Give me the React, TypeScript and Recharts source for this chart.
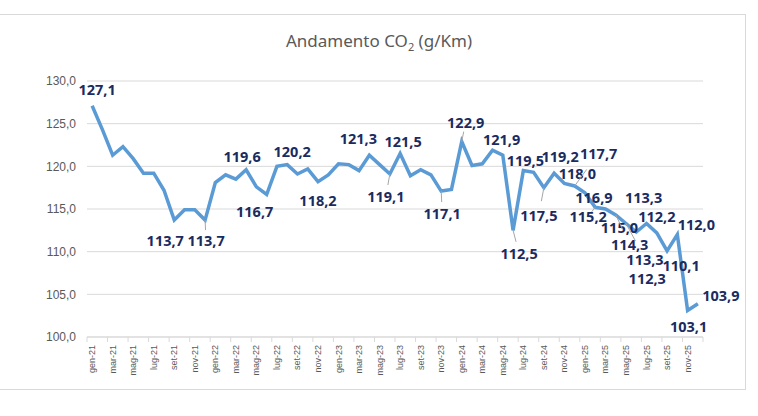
import { LineChart, Line, XAxis, YAxis, CartesianGrid } from 'recharts'

const MONTHS = ['gen', 'feb', 'mar', 'apr', 'mag', 'giu', 'lug', 'ago', 'set', 'ott', 'nov', 'dic']
const YEARS = ['21', '22', '23', '24', '25']

// one value per month, gen-21 .. dic-25
const CO2 = [
  127.1, 124.3, 121.3, 122.3, 120.9, 119.2, 119.2, 117.2, 113.7, 114.9, 114.9, 113.7,
  118.1, 119.0, 118.5, 119.6, 117.6, 116.7, 120.0, 120.2, 119.1, 119.7, 118.2, 119.0,
  120.3, 120.2, 119.5, 121.3, 120.2, 119.1, 121.5, 118.9, 119.6, 119.0, 117.1, 117.3,
  122.9, 120.1, 120.3, 121.9, 121.3, 112.5, 119.5, 119.3, 117.5, 119.2, 118.0, 117.7,
  116.9, 115.2, 115.0, 114.3, 113.3, 112.3, 113.3, 112.2, 110.1, 112.0, 103.1, 103.9,
]

const Y_TICKS = [100, 105, 110, 115, 120, 125, 130]

const data = YEARS.flatMap((y) => MONTHS.map((m) => `${m}-${y}`)).map((month, i) => ({
  month,
  co2: CO2[i],
}))

// where Excel placed each visible data label, relative to its point
const LABEL_OFFSETS: Record<number, [number, number]> = {
  0: [5, -17], 8: [-9, 20], 11: [1, 20], 15: [-4, -14], 17: [-12, 17], 19: [5, -14],
  22: [0, 18], 27: [-11, -17], 29: [-4, 22], 30: [3, -13], 34: [1, 22], 36: [4, -20],
  39: [9, -11], 41: [6, 23], 42: [2, -11], 44: [-5, 27], 45: [6, -17], 46: [13, -10],
  47: [24, -33], 48: [9, 4], 49: [-7, 9], 50: [14, 18], 51: [14, 29], 52: [19, 35],
  53: [11, 46], 54: [-3, -27], 55: [0, -17], 56: [14, 14], 57: [19, -11], 58: [1, 15],
  59: [23, -9],
}
const LEADERS = [11, 29, 34, 36, 41, 44, 47, 49, 51, 52]

const W = 758
const H = 416
const PLOT_LEFT = 87
const PLOT_RIGHT = 55
const BAND = (W - PLOT_LEFT - PLOT_RIGHT) / CO2.length

const fmt = (v: number) => v.toFixed(1).replace('.', ',')

const PointLabel = (props: any) => {
  const { x, y, index, value } = props
  const off = LABEL_OFFSETS[index]
  if (!off || x == null) return <g />
  const [dx, dy] = off
  return (
    <g>
      {LEADERS.includes(index) && (
        <line x1={x} y1={y} x2={x + dx * 0.5} y2={y + dy * 0.5} stroke="#A6A6A6" strokeWidth={1} />
      )}
      <text
        x={x + dx}
        y={y + dy}
        textAnchor="middle"
        dominantBaseline="central"
        fontFamily="'Noto Sans', sans-serif"
        fontWeight="bold"
        fontSize={14.5}
        fill="#1A2B5F"
      >
        {fmt(value)}
      </text>
    </g>
  )
}

const MonthTick = (props: any) => {
  const { x, y, payload } = props
  const isLast = payload.index === CO2.length - 2
  return (
    <g>
      <line x1={x - BAND / 2} y1={y} x2={x - BAND / 2} y2={y + 5} stroke="#D9D9D9" />
      {isLast && <line x1={x + BAND * 1.5} y1={y} x2={x + BAND * 1.5} y2={y + 5} stroke="#D9D9D9" />}
      <text
        x={x}
        y={y + 8}
        transform={`rotate(-90, ${x}, ${y + 8})`}
        textAnchor="end"
        dominantBaseline="central"
        fontFamily="'Liberation Sans', sans-serif"
        fontSize={9}
        fill="#595959"
      >
        {payload.value}
      </text>
    </g>
  )
}

export default function App() {
  return (
    <div style={{ position: 'absolute', left: 0, top: 0, width: W, height: H, background: '#fff' }}>
      <div
        style={{
          position: 'absolute', left: 0, top: 14, width: 745, height: 374,
          borderTop: '1px solid #D9D9D9', borderRight: '1px solid #D9D9D9', borderBottom: '1px solid #D9D9D9',
        }}
      />
      <div
        style={{
          position: 'absolute', left: 0, top: 29, width: 758, textAlign: 'center',
          fontFamily: "'Noto Sans', sans-serif", fontSize: 17, color: '#595959',
        }}
      >
        Andamento CO<sub style={{ fontSize: 11 }}>2</sub> (g/Km)
      </div>
      <div style={{ position: 'absolute', left: 0, top: 0 }}>
        <LineChart width={W} height={H} data={data} margin={{ top: 81, right: PLOT_RIGHT, bottom: 30, left: 27 }}>
          <CartesianGrid vertical={false} stroke="#D9D9D9" />
          <XAxis
            dataKey="month"
            interval={1}
            height={49}
            padding={{ left: BAND / 2, right: BAND / 2 }}
            tickLine={false}
            tickSize={0}
            tickMargin={0}
            axisLine={{ stroke: '#D9D9D9' }}
            tick={<MonthTick />}
          />
          <YAxis
            domain={[100, 130]}
            ticks={Y_TICKS}
            width={60}
            axisLine={false}
            tickLine={false}
            tickSize={8}
            tickMargin={3}
            tickFormatter={fmt}
            tick={{ fontSize: 12, fill: '#595959', fontFamily: "'Liberation Sans', sans-serif" }}
          />
          <Line
            type="linear"
            dataKey="co2"
            stroke="#5B9BD5"
            strokeWidth={3.5}
            dot={false}
            isAnimationActive={false}
            label={<PointLabel />}
          />
        </LineChart>
      </div>
    </div>
  )
}
